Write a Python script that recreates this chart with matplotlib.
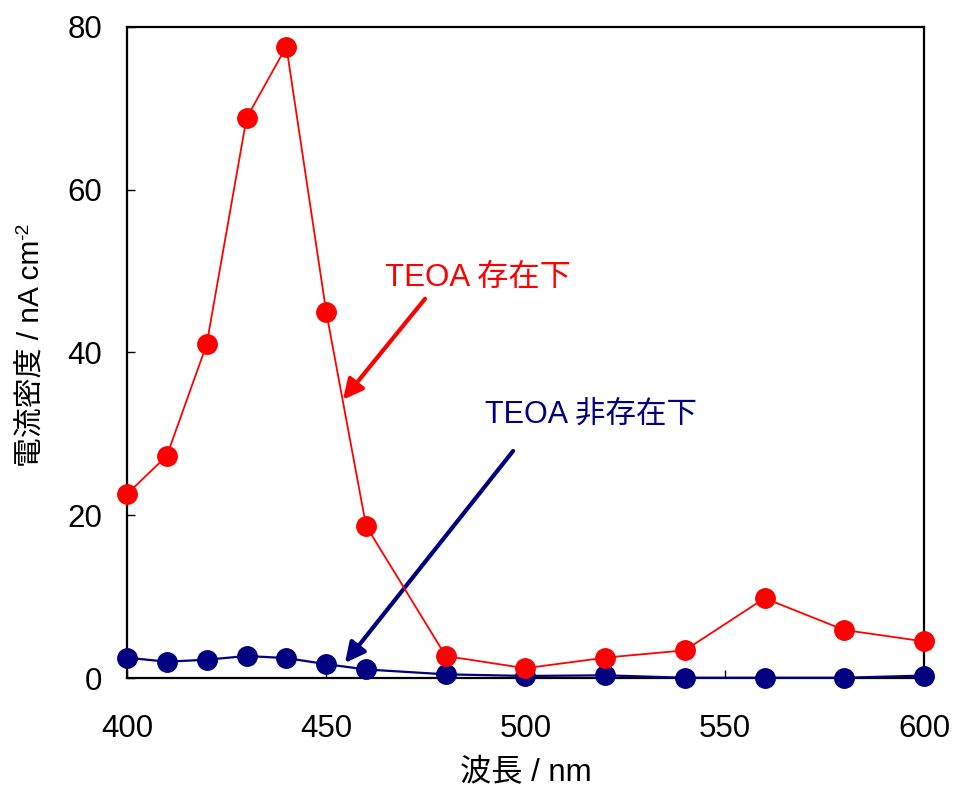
import matplotlib
matplotlib.use("Agg")
import matplotlib.pyplot as plt

plt.rcParams['font.family'] = ['Liberation Sans', 'Noto Sans CJK JP', 'DejaVu Sans']

# Wavelength (nm) and photocurrent density (nA cm^-2)
wavelength = [400, 410, 420, 430, 440, 450, 460, 480, 500, 520, 540, 560, 580, 600]
with_teoa = [22.6, 27.3, 41.0, 68.8, 77.6, 45.0, 18.7, 2.7, 1.2, 2.5, 3.4, 9.8, 5.9, 4.5]
without_teoa = [2.5, 2.0, 2.25, 2.7, 2.45, 1.7, 1.05, 0.45, 0.25, 0.33, 0.03, 0.03, 0.03, 0.3]

label_with = "TEOA 存在下"
label_without = "TEOA 非存在下"
xlabel = "波長 / nm"
ylabel_main = "電流密度 / nA cm"
ylabel_sup = "-2"

red = "#ff0000"
navy = "#000080"

fig = plt.figure(figsize=(9.56, 7.87), dpi=100)
ax = fig.add_axes([0.1328, 0.1385, 0.8337, 0.8272])

ax.plot(wavelength, without_teoa, color=navy, lw=1.6, marker='o', ms=14,
        clip_on=False, zorder=3)
ax.plot(wavelength, with_teoa, color=red, lw=1.3, marker='o', ms=14,
        clip_on=False, zorder=4)

ax.set_xlim(400, 600)
ax.set_ylim(0, 80)
ax.set_xticks([400, 450, 500, 550, 600])
ax.set_yticks([0, 20, 40, 60, 80])
ax.tick_params(direction='in', length=6, width=1, labelsize=22.5)
ax.tick_params(axis='x', pad=26)
ax.tick_params(axis='y', pad=18)
for s in ax.spines.values():
    s.set_linewidth(1.6)

ax.set_xlabel(xlabel, fontsize=22.5, labelpad=10)

# y label with a superscript exponent
ylab = fig.text(0.033, 0.551, ylabel_main, fontsize=21.5, rotation=90,
                ha='center', va='center')
ax.annotate(ylabel_sup, xy=(0, 1), xycoords=ylab, xytext=(-2, 0),
            textcoords='offset points', fontsize=14, rotation=90,
            ha='left', va='bottom')

ax.annotate("", xy=(454.2, 34.2), xytext=(474.8, 46.6),
            arrowprops=dict(arrowstyle='-|>', color=red, lw=3,
                            mutation_scale=30, shrinkA=0, shrinkB=0))
ax.annotate("", xy=(454.7, 1.85), xytext=(496.9, 27.9),
            arrowprops=dict(arrowstyle='-|>', color=navy, lw=3,
                            mutation_scale=30, shrinkA=0, shrinkB=0))

ax.text(464.7, 49.1, label_with, color=red, fontsize=22.5, va='center', ha='left')
ax.text(489.8, 32.4, label_without, color=navy, fontsize=22, va='center', ha='left')

fig.savefig("out.png", dpi=100)
